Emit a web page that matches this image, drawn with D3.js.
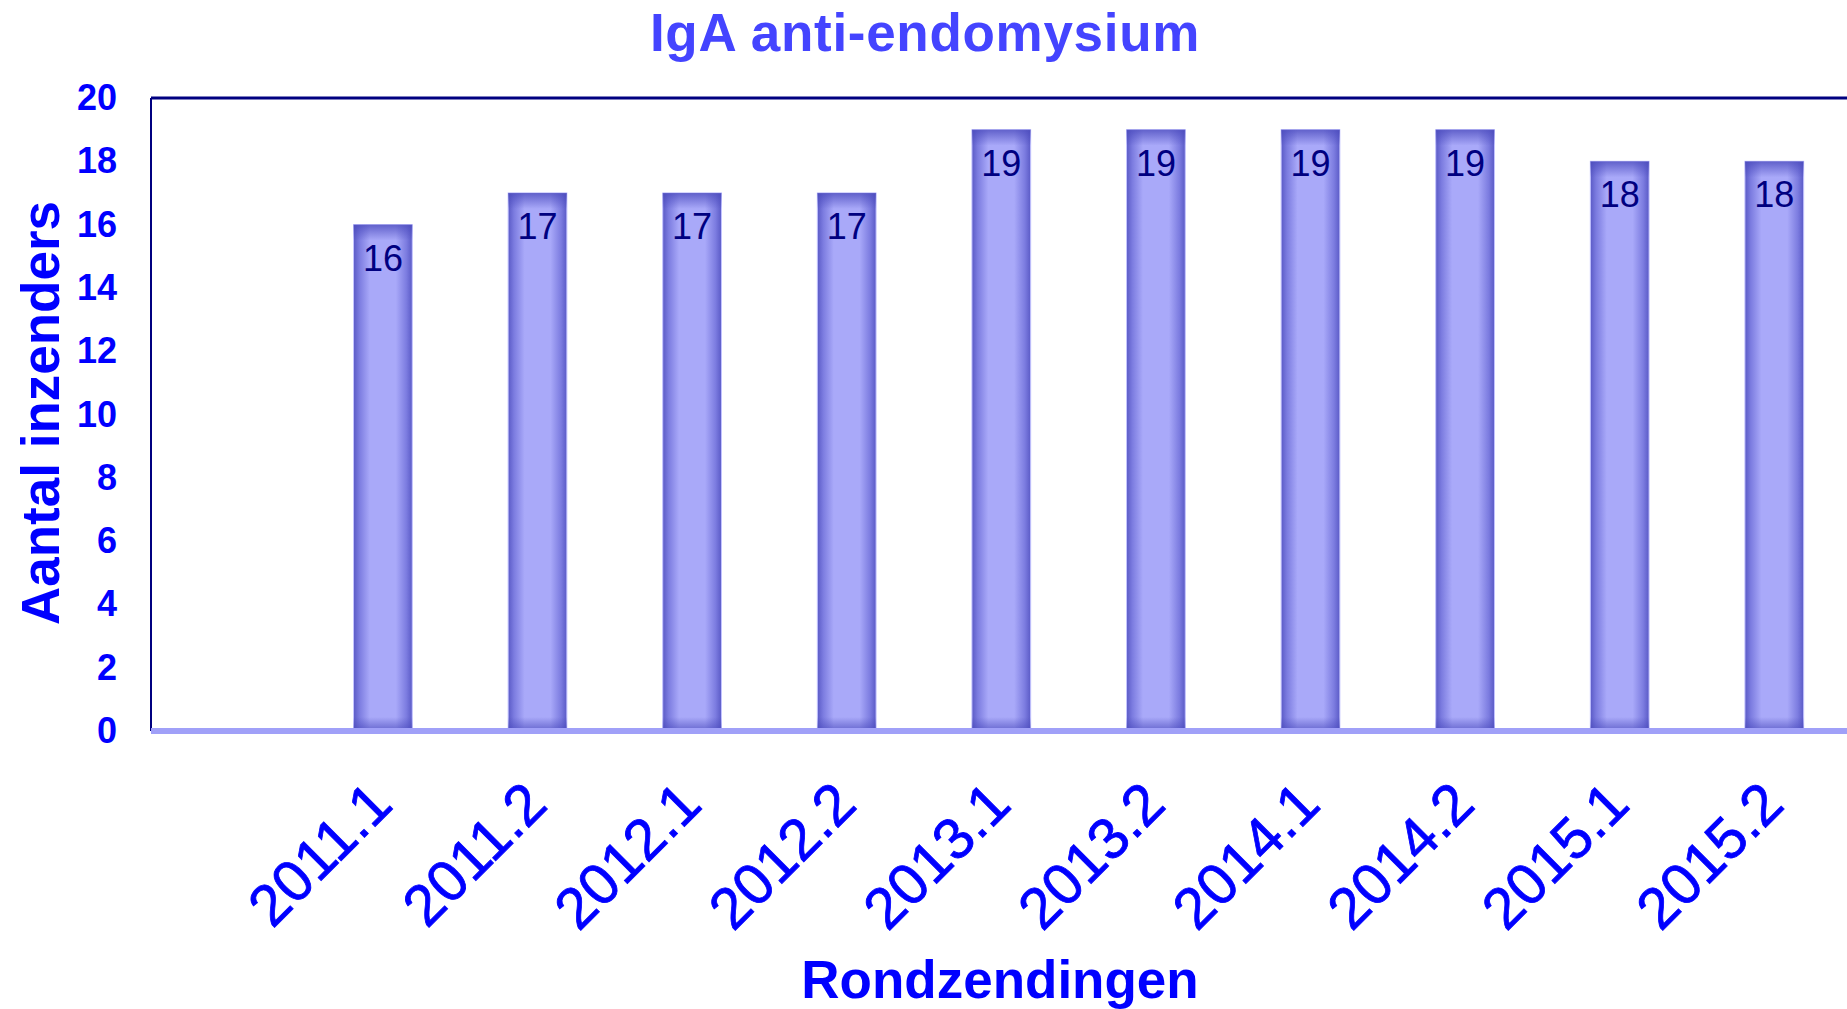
<!DOCTYPE html>
<html>
<head>
<meta charset="utf-8">
<script src="https://cdn.jsdelivr.net/npm/d3@7"></script>
<style>
  body { margin: 0; background: #fff; overflow: hidden; }
  text { font-family: "Liberation Sans", Arial, sans-serif; }
</style>
</head>
<body>
<div id="chart"></div>
<script>
// chart values
var rounds = ["", "2011.1", "2011.2", "2012.1", "2012.2", "2013.1", "2013.2", "2014.1", "2014.2", "2015.1", "2015.2"];
var counts = [null, 16, 17, 17, 17, 19, 19, 19, 19, 18, 18];
var yTicks = [0, 2, 4, 6, 8, 10, 12, 14, 16, 18, 20];
var titleText = "IgA anti-endomysium";
var xTitle = "Rondzendingen";
var yTitle = "Aantal inzenders";

var W = 1847, H = 1009;
var plotLeft = 151, plotTop = 98, plotBottom = 731;
var step = 154.6;
var plotRight = plotLeft + rounds.length * step;

var data = rounds.map(function(r, i) { return { round: r, value: counts[i] }; });

var svg = d3.select("#chart")
  .append("svg")
    .attr("width", W)
    .attr("height", H);

var defs = svg.append("defs");

// side shading of the bars
var side = defs.append("linearGradient").attr("id", "barSide")
  .attr("x1", "0%").attr("x2", "100%").attr("y1", "0%").attr("y2", "0%");
[["0%", "#5a5ac6"], ["10%", "#7c7ce0"], ["28%", "#a9a9f9"], ["72%", "#a9a9f9"], ["90%", "#7c7ce0"], ["100%", "#5a5ac6"]]
  .forEach(function(s) { side.append("stop").attr("offset", s[0]).attr("stop-color", s[1]); });

var topShade = defs.append("linearGradient").attr("id", "barTop")
  .attr("x1", "0%").attr("x2", "0%").attr("y1", "0%").attr("y2", "100%");
topShade.append("stop").attr("offset", "0%").attr("stop-color", "#4848bb").attr("stop-opacity", 0.75);
topShade.append("stop").attr("offset", "100%").attr("stop-color", "#4848bb").attr("stop-opacity", 0);

var botShade = defs.append("linearGradient").attr("id", "barBot")
  .attr("x1", "0%").attr("x2", "0%").attr("y1", "100%").attr("y2", "0%");
botShade.append("stop").attr("offset", "0%").attr("stop-color", "#4848bb").attr("stop-opacity", 0.7);
botShade.append("stop").attr("offset", "100%").attr("stop-color", "#4848bb").attr("stop-opacity", 0);

// scales
var x = d3.scaleBand()
  .domain(rounds)
  .range([plotLeft, plotRight])
  .paddingInner(0.62)
  .paddingOuter(0.31);

var y = d3.scaleLinear()
  .domain([0, 20])
  .range([plotBottom, plotTop]);

// bars
var bars = svg.append("g")
  .selectAll("g")
  .data(data.filter(function(d) { return d.value != null; }))
  .enter().append("g");

bars.append("rect")
  .attr("x", function(d) { return x(d.round); })
  .attr("y", function(d) { return y(d.value); })
  .attr("width", x.bandwidth())
  .attr("height", function(d) { return y(0) - y(d.value); })
  .attr("fill", "url(#barSide)")
  .attr("stroke", "#c4c4ff")
  .attr("stroke-width", 1);

bars.append("rect")
  .attr("x", function(d) { return x(d.round); })
  .attr("y", function(d) { return y(d.value); })
  .attr("width", x.bandwidth())
  .attr("height", 16)
  .attr("fill", "url(#barTop)");

bars.append("rect")
  .attr("x", function(d) { return x(d.round); })
  .attr("y", y(0) - 14)
  .attr("width", x.bandwidth())
  .attr("height", 14)
  .attr("fill", "url(#barBot)");

// value labels inside the bars
bars.append("text")
  .attr("x", function(d) { return x(d.round) + x.bandwidth() / 2; })
  .attr("y", function(d) { return y(d.value) + 46; })
  .attr("text-anchor", "middle")
  .style("font-size", "36px")
  .style("fill", "#000080")
  .text(function(d) { return d.value; });

// frame: top border and left axis line
svg.append("line")
  .attr("x1", plotLeft).attr("x2", W)
  .attr("y1", plotTop).attr("y2", plotTop)
  .attr("stroke", "#000080").attr("stroke-width", 3);

svg.append("line")
  .attr("x1", plotLeft).attr("x2", plotLeft)
  .attr("y1", plotTop).attr("y2", plotBottom)
  .attr("stroke", "#000080").attr("stroke-width", 2);

// Y axis
var yAxis = svg.append("g")
  .attr("transform", "translate(" + plotLeft + ",0)")
  .call(d3.axisLeft(y).tickValues(yTicks).tickSize(0).tickPadding(34));
yAxis.select(".domain").remove();
yAxis.selectAll("text")
  .style("font-family", "'Liberation Sans', Arial, sans-serif")
  .style("font-size", "36px")
  .style("font-weight", "bold")
  .style("fill", "#0000ff");

// X axis
var xAxis = svg.append("g")
  .attr("transform", "translate(0," + plotBottom + ")")
  .call(d3.axisBottom(x).tickSize(0));
xAxis.select(".domain").remove();
xAxis.selectAll("text")
  .attr("y", 0)
  .attr("dy", 0)
  .attr("text-anchor", "end")
  .attr("transform", "translate(12,76) rotate(-45)")
  .style("font-family", "'Liberation Sans', Arial, sans-serif")
  .style("font-size", "58px")
  .style("fill", "#0000ff")
  .style("stroke", "#0000ff")
  .style("stroke-width", 0.8);

// category axis line
svg.append("line")
  .attr("x1", plotLeft).attr("x2", W)
  .attr("y1", plotBottom).attr("y2", plotBottom)
  .attr("stroke", "#a0a0f8").attr("stroke-width", 6);

// titles
svg.append("text")
  .attr("x", 925).attr("y", 51)
  .attr("text-anchor", "middle")
  .style("font-size", "53px")
  .style("font-weight", "bold")
  .style("letter-spacing", "0.7px")
  .style("fill", "#4444ff")
  .text(titleText);

svg.append("text")
  .attr("x", 1000).attr("y", 998)
  .attr("text-anchor", "middle")
  .style("font-size", "53px")
  .style("font-weight", "bold")
  .style("fill", "#0000ff")
  .text(xTitle);

svg.append("text")
  .attr("transform", "translate(59,413) rotate(-90)")
  .attr("text-anchor", "middle")
  .style("font-size", "53px")
  .style("font-weight", "bold")
  .style("fill", "#0000ff")
  .text(yTitle);
</script>
</body>
</html>
